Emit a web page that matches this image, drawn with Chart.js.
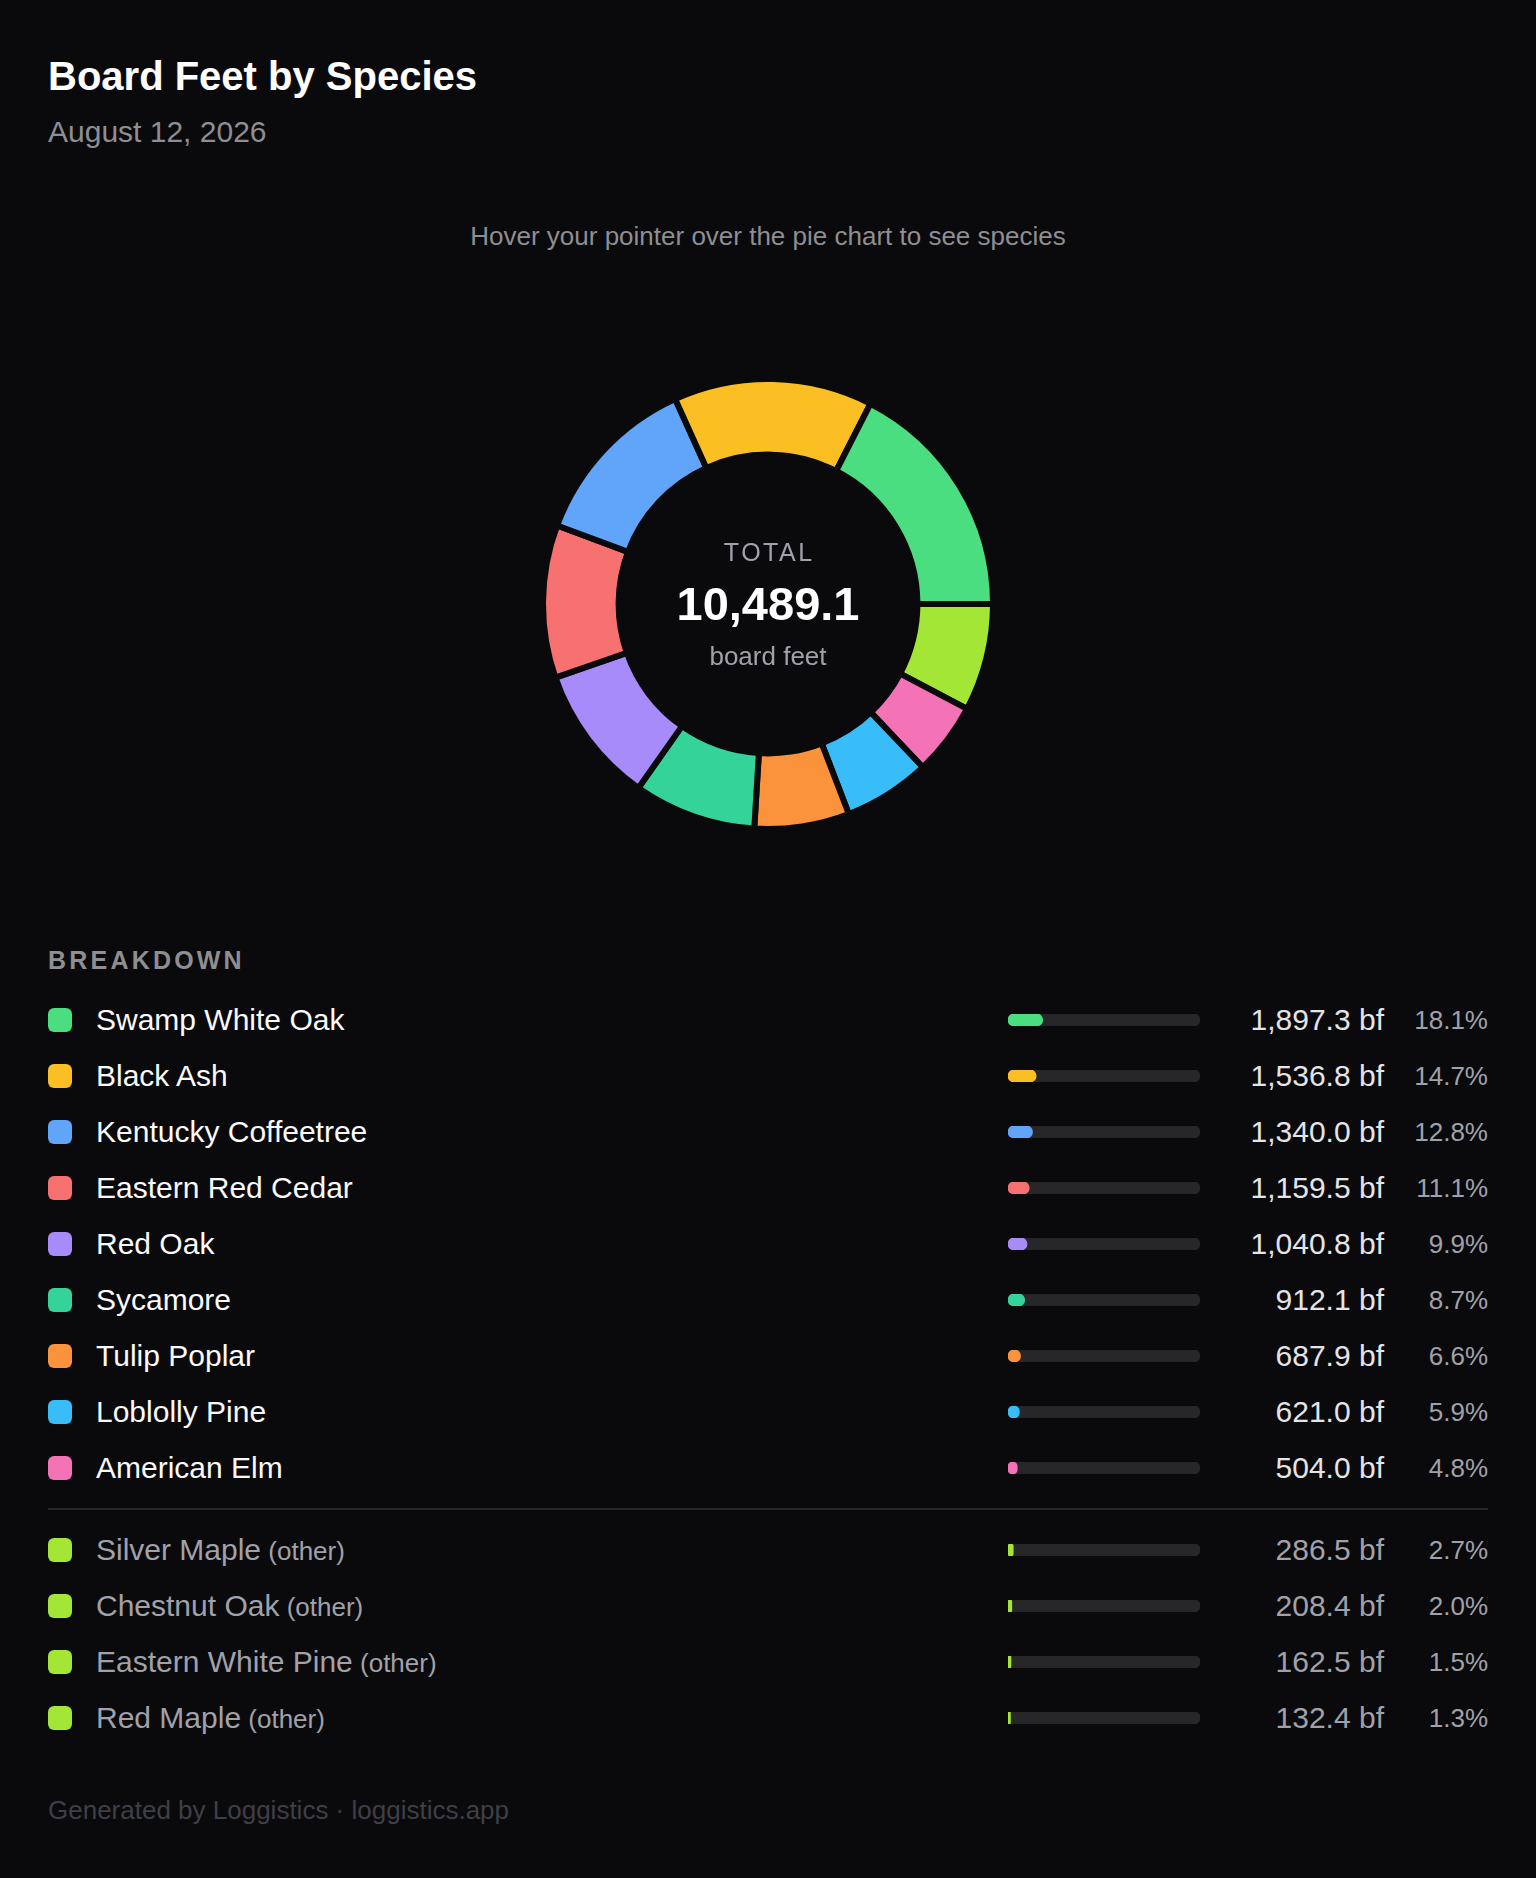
<!DOCTYPE html>
<html>
<head>
<meta charset="utf-8">
<title>Board Feet by Species</title>
<script src="https://cdn.jsdelivr.net/npm/chart.js@4.4.1/dist/chart.umd.min.js"></script>
<style>
  html, body { margin: 0; padding: 0; }
  body {
    background: #0a0a0c;
    width: 1536px;
    height: 1878px;
    position: relative;
    overflow: hidden;
    font-family: "Liberation Sans", Arial, sans-serif;
  }
  .abs { position: absolute; white-space: nowrap; }
  #title { left: 48px; top: 56px; font-size: 40px; line-height: 40px; font-weight: 700; color: #ffffff; }
  #date { left: 48px; top: 117px; font-size: 30px; line-height: 30px; color: #8e8e93; }
  #hint { left: 0; width: 1536px; text-align: center; top: 223px; font-size: 26px; line-height: 26px; color: #8e8e93; }
  #donutWrap { position: absolute; left: 540px; top: 376px; width: 456px; height: 456px; }
  .center { position: absolute; left: 0; width: 1536px; text-align: center; white-space: nowrap; }
  #cTotal { top: 540px; font-size: 25px; line-height: 25px; letter-spacing: 2.5px; padding-left: 2.5px; box-sizing: border-box; color: #a1a1aa; }
  #cValue { top: 580px; font-size: 47px; line-height: 47px; font-weight: 700; color: #ffffff; }
  #cUnit { top: 643px; font-size: 26px; line-height: 26px; color: #a1a1aa; }
  #breakdown { left: 48px; top: 948px; font-size: 25px; line-height: 25px; font-weight: 700; letter-spacing: 3.2px; color: #8e8e93; }
  .rows { position: absolute; left: 48px; width: 1440px; }
  .row { position: relative; height: 56px; }
  .sw { position: absolute; left: 0; top: 16px; width: 24px; height: 24px; border-radius: 6px; }
  .name { position: absolute; left: 48px; top: 0; height: 56px; line-height: 56px; font-size: 30px; color: #fafafa; white-space: nowrap; }
  .row.other .name { color: #a1a1aa; }
  .name .tag { font-size: 26px; }
  .bar { position: absolute; left: 960px; top: 22px; width: 192px; height: 12px; }
  .val { position: absolute; right: 104px; top: 0; height: 56px; line-height: 56px; font-size: 30px; color: #e4e4e7; white-space: nowrap; }
  .row.other .val { color: #a1a1aa; }
  .pct { position: absolute; right: 0; top: 0; height: 56px; line-height: 56px; font-size: 26px; color: #a1a1aa; white-space: nowrap; }
  #divider { position: absolute; left: 48px; top: 1508px; width: 1440px; height: 2px; background: #27272a; }
  #footer { left: 48px; top: 1797px; font-size: 26px; line-height: 26px; color: #3f3f46; }
</style>
</head>
<body>
<div id="title" class="abs">Board Feet by Species</div>
<div id="date" class="abs">August 12, 2026</div>
<div id="hint" class="abs">Hover your pointer over the pie chart to see species</div>

<div id="donutWrap"><canvas id="donut" width="456" height="456"></canvas></div>
<div id="cTotal" class="center">TOTAL</div>
<div id="cValue" class="center"></div>
<div id="cUnit" class="center">board feet</div>

<div id="breakdown" class="abs">BREAKDOWN</div>
<div id="mainRows" class="rows" style="top:992px"></div>
<div id="divider"></div>
<div id="otherRows" class="rows" style="top:1522px"></div>

<div id="footer" class="abs">Generated by Loggistics · loggistics.app</div>

<script>
// ---- data ----
const speciesNames = ["Swamp White Oak", "Black Ash", "Kentucky Coffeetree", "Eastern Red Cedar", "Red Oak", "Sycamore", "Tulip Poplar", "Loblolly Pine", "American Elm"];
const speciesValues = [1897.3, 1536.8, 1340.0, 1159.5, 1040.8, 912.1, 687.9, 621.0, 504.0];
const otherNames = ["Silver Maple", "Chestnut Oak", "Eastern White Pine", "Red Maple"];
const otherValues = [286.5, 208.4, 162.5, 132.4];
const otherLabel = "Other";
const totalBoardFeet = 10489.1;

// ---- palette / style ----
const speciesColors = ["#4ade80", "#fbbf24", "#60a5fa", "#f87171", "#a78bfa", "#34d399", "#fb923c", "#38bdf8", "#f472b6"];
const otherColor = "#a3e635";
const bgColor = "#0a0a0c";
const trackColor = "#27272a";
// the reference pie gives every slice the same extra pad angle (d3-style padAngle), in degrees
const padAngleDeg = 2.75;

const fmtVal = v => v.toLocaleString("en-US", { minimumFractionDigits: 1, maximumFractionDigits: 1 });
const pctOf = v => v / totalBoardFeet * 100;

document.getElementById("cValue").textContent = fmtVal(totalBoardFeet);

// ---- donut ----
const otherTotal = otherValues.reduce((a, b) => a + b, 0);
const donutLabels = [otherLabel].concat(speciesNames.slice().reverse());
const donutValues = [otherTotal].concat(speciesValues.slice().reverse());
const donutColors = [otherColor].concat(speciesColors.slice().reverse());
// pad-angle layout: span_i = value_i * (360 - n*pad)/total + pad
const padShare = padAngleDeg * totalBoardFeet / (360 - donutValues.length * padAngleDeg);
const donutSpans = donutValues.map(v => v + padShare);

new Chart(document.getElementById("donut"), {
  type: "doughnut",
  data: {
    labels: donutLabels,
    datasets: [{
      data: donutSpans,
      backgroundColor: donutColors,
      hoverBackgroundColor: donutColors,
      borderColor: bgColor,
      hoverBorderColor: bgColor,
      borderWidth: 6,
      hoverBorderWidth: 6
    }]
  },
  options: {
    responsive: false,
    maintainAspectRatio: false,
    animation: false,
    cutout: "66.4%",
    rotation: 90,
    layout: { padding: 0 },
    plugins: { legend: { display: false }, tooltip: { enabled: false } }
  }
});

// ---- breakdown rows ----
function makeBar(canvas, label, pct, color) {
  new Chart(canvas, {
    type: "bar",
    data: {
      labels: [label],
      datasets: [
        { data: [pct], backgroundColor: color, grouped: false, order: 0,
          barPercentage: 1, categoryPercentage: 1, borderRadius: 6, borderSkipped: false },
        { data: [100], backgroundColor: trackColor, grouped: false, order: 1,
          barPercentage: 1, categoryPercentage: 1, borderRadius: 6, borderSkipped: false }
      ]
    },
    options: {
      indexAxis: "y",
      responsive: false,
      maintainAspectRatio: false,
      animation: false,
      events: [],
      layout: { padding: 0 },
      plugins: { legend: { display: false }, tooltip: { enabled: false } },
      scales: {
        x: { display: false, min: 0, max: 100 },
        y: { display: false }
      }
    }
  });
}

function addRow(container, name, value, color, isOther) {
  const row = document.createElement("div");
  row.className = "row" + (isOther ? " other" : "");
  const sw = document.createElement("div");
  sw.className = "sw";
  sw.style.background = color;
  const nm = document.createElement("div");
  nm.className = "name";
  nm.textContent = name;
  if (isOther) {
    const tag = document.createElement("span");
    tag.className = "tag";
    tag.textContent = " (other)";
    nm.appendChild(tag);
  }
  const cv = document.createElement("canvas");
  cv.className = "bar";
  cv.width = 192; cv.height = 12;
  const val = document.createElement("div");
  val.className = "val";
  val.textContent = fmtVal(value) + " bf";
  const pc = document.createElement("div");
  pc.className = "pct";
  pc.textContent = pctOf(value).toFixed(1) + "%";
  row.append(sw, nm, cv, val, pc);
  container.appendChild(row);
  makeBar(cv, name, pctOf(value), color);
}

const mainRows = document.getElementById("mainRows");
speciesNames.forEach((n, i) => addRow(mainRows, n, speciesValues[i], speciesColors[i], false));
const otherRows = document.getElementById("otherRows");
otherNames.forEach((n, i) => addRow(otherRows, n, otherValues[i], otherColor, true));
</script>
</body>
</html>
